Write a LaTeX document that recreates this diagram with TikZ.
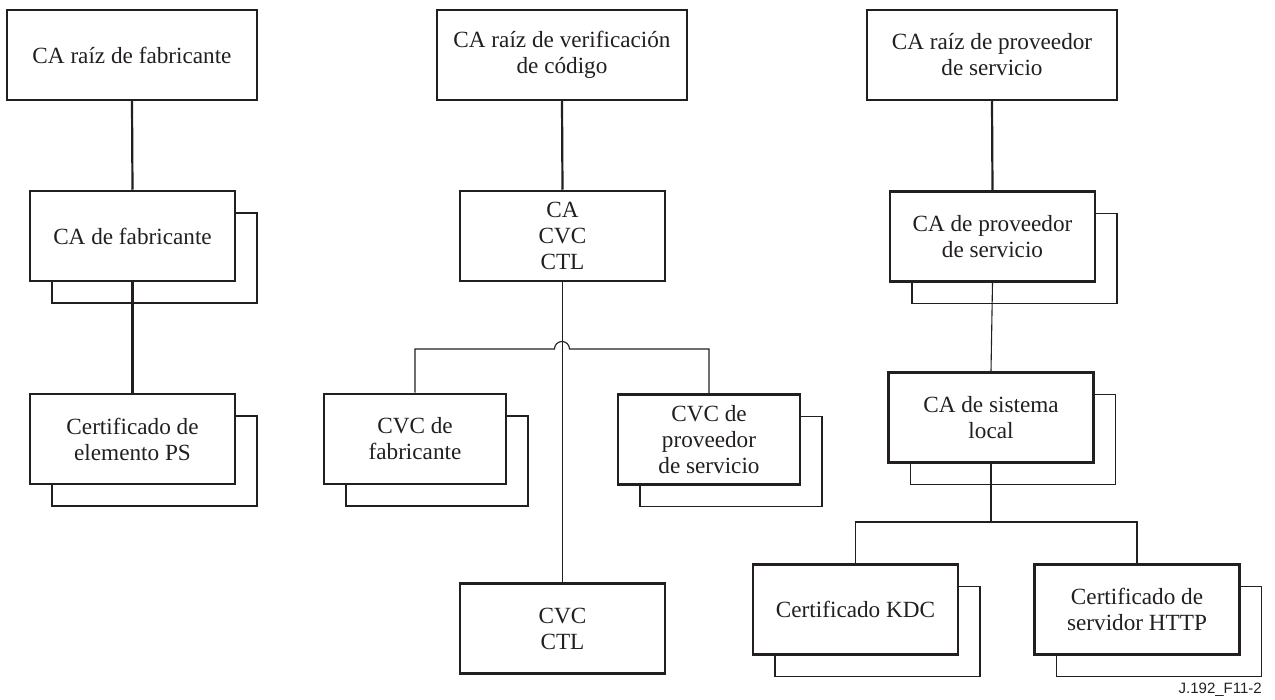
\documentclass[tikz,border=0pt]{standalone}
\usepackage{fontspec}
\setmainfont{Liberation Serif}
\newfontfamily\labelfont{Liberation Sans}
\usetikzlibrary{shadows}
\definecolor{ink}{HTML}{231F20}
\tikzset{
  box/.style={draw=ink, line width=2.5pt, fill=white, inner sep=0pt,
    align=center, font=\fontsize{23.2}{26}\selectfont, text=ink},
  rootbox/.style={box, minimum width=250pt, minimum height=90pt},
  midbox/.style={box, minimum width=205pt, minimum height=90pt},
  narrowbox/.style={box, minimum width=182pt, minimum height=90pt},
  stacked/.style={general shadow={draw=ink, line width=1.1pt, fill=white,
    shadow xshift=22pt, shadow yshift=-22pt}},
  strong/.style={draw=ink, line width=2.2pt},
  fine/.style={draw=ink, line width=1.1pt},
}
\begin{document}
\begin{tikzpicture}[x=1pt, y=-1pt]
\useasboundingbox (0,0) rectangle (1275,700);

% manufacturer hierarchy
\node[rootbox] (A1) at (132,55) {CA raíz de fabricante};
\node[midbox, stacked] (A2) at (132.5,236) {CA de fabricante};
\node[midbox, stacked] (A3) at (132.5,439) {Certificado de\\elemento PS};

% code verification hierarchy
\node[rootbox] (B1) at (562,55) {CA raíz de verificación\\de código};
\node[midbox] (B2) at (562.5,236) {CA\\CVC\\CTL};
\node[narrowbox, stacked] (B3) at (415,439) {CVC de\\fabricante};
\node[narrowbox, stacked] (B4) at (709,439.5) {CVC de\\proveedor\\de servicio};
\node[midbox] (B5) at (562.5,628.5) {CVC\\CTL};

% service provider hierarchy
\node[rootbox] (C1) at (992,55) {CA raíz de proveedor\\de servicio};
\node[midbox, stacked] (C2) at (992.5,236.5) {CA de proveedor\\de servicio};
\node[midbox, stacked] (C3) at (991,417.5) {CA de sistema\\local};
\node[midbox, stacked] (C4) at (855.5,609.5) {Certificado KDC};
\node[midbox, stacked] (C5) at (1137,609.5) {Certificado de\\servidor HTTP};

% figure reference
\node[anchor=south east, inner sep=0pt, text=ink,
  font=\labelfont\fontsize{15}{15}\selectfont] (ref) at (1262,697) {J.192\_F11-2};

% connectors
\draw[strong] (A1.south) -- (A2.north);
\draw[strong] (A2.south) -- (A3.north);

\draw[strong] (B1.south) -- (B2.north);
\draw[fine] (B2.south) -- (B5.north);
\coordinate (jl) at (554.5,349);
\draw[fine] (B3.north) |- (jl) arc[start angle=180, end angle=0, radius=7.5pt] -| (B4.north);

\draw[strong] (C1.south) -- (C2.north);
\draw[fine] (C2.south) -- (C3.north);
\coordinate (cbus) at (991,522);
\draw[fine] (C3.south) -- (cbus);
\draw[fine] (C4.north) |- (cbus) -| (C5.north);
\end{tikzpicture}
\end{document}
